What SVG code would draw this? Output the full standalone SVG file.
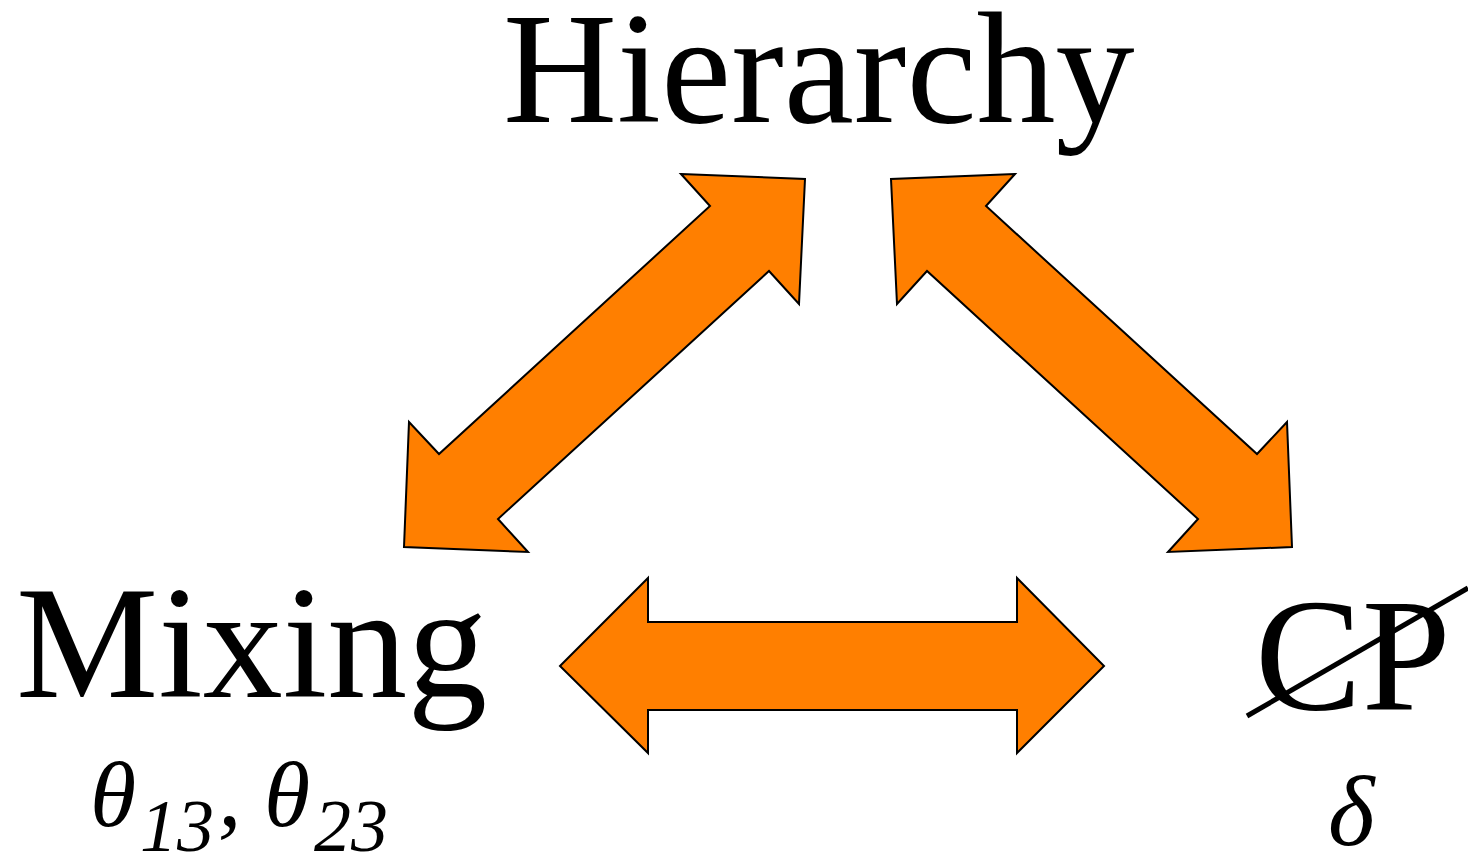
<svg xmlns="http://www.w3.org/2000/svg" width="1468" height="857" viewBox="0 0 1468 857">
<style>
.arrow{fill:#ff7f00;stroke:#000;stroke-width:2;stroke-linejoin:miter}
.lbl{font-family:"Liberation Serif","Times New Roman",serif;fill:#000}
.it{font-family:"Liberation Serif","Times New Roman",serif;font-style:italic;fill:#000}
</style>
<rect width="1468" height="857" fill="#fff"/>
<g id="connectors">
<polygon id="arrow-mixing-hierarchy" class="arrow" points="681,174 805,179 799,304 769,271 498,519 528,552 404,547 409,422 439,454 710,206"/>
<polygon id="arrow-hierarchy-cp" class="arrow" points="1015,174 891,179 897,304 927,271 1198,519 1168,552 1292,547 1287,422 1257,454 986,206"/>
<polygon id="arrow-mixing-cp" class="arrow" points="560,666 648,578 648,622 1017,622 1017,578 1104,666 1017,753 1017,710 648,710 648,753"/>
</g>
<g id="hierarchy">
<text class="lbl" x="503" y="122" font-size="158">Hierarchy</text>
</g>
<g id="mixing">
<text class="lbl" x="16" y="697" font-size="160">Mixing</text>
<text class="it" x="90" y="826" font-size="94">θ</text>
<text class="it" x="140" y="851" font-size="74">13</text>
<text class="it" x="218" y="826" font-size="94">,</text>
<text class="it" x="264" y="826" font-size="94">θ</text>
<text class="it" x="314" y="851" font-size="74">23</text>
</g>
<g id="cp">
<text class="lbl" x="1255" y="709" font-size="160">CP</text>
<line x1="1247" y1="716" x2="1468" y2="588" stroke="#000" stroke-width="5"/>
<text class="it" x="1328" y="845" font-size="100">δ</text>
</g>
</svg>
